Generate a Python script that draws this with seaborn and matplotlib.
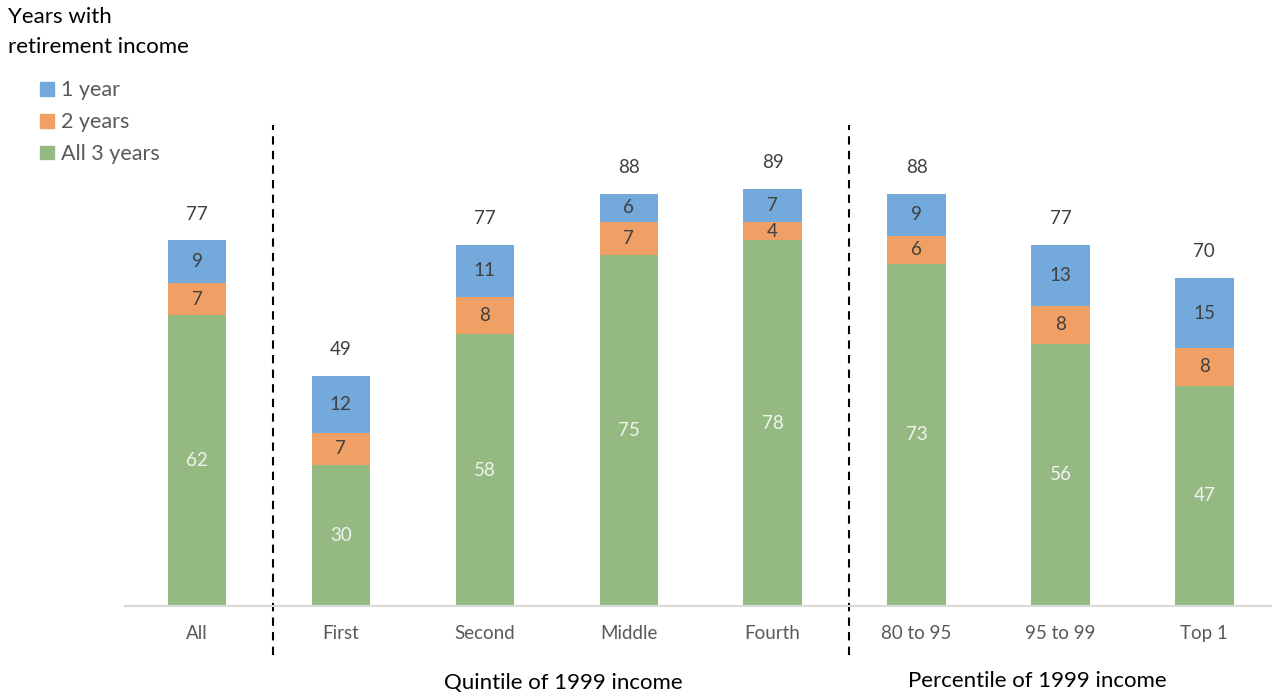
import numpy as np
import pandas as pd
import matplotlib
matplotlib.use("Agg")
import matplotlib.pyplot as plt
import matplotlib.transforms as mtransforms
import seaborn as sns

categories = ["All", "First", "Second", "Middle", "Fourth", "80 to 95", "95 to 99", "Top 1"]
all_3_years = [62, 30, 58, 75, 78, 73, 56, 47]
two_years = [7, 7, 8, 7, 4, 6, 8, 8]
one_year = [9, 12, 11, 6, 7, 9, 13, 15]
totals = [77, 49, 77, 88, 89, 88, 77, 70]
series_names = ["1 year", "2 years", "All 3 years"]
group_labels = ["Quintile of 1999 income", "Percentile of 1999 income"]
title = "Years with\nretirement income"

c_blue = "#74A9DB"
c_orange = "#F1A065"
c_green = "#94BA82"

sns.set_theme(style="white")
plt.rcParams["font.family"] = ["Lato", "DejaVu Sans"]

df = pd.DataFrame({
    "cat": categories,
    "g": all_3_years,
    "o": two_years,
    "b": one_year,
})
df["go"] = df["g"] + df["o"]
df["gob"] = df["go"] + df["b"]

fig = plt.figure(figsize=(12.72, 6.96), dpi=100)
ax = fig.add_axes([125 / 1272, 90 / 696, 1147 / 1272, 471 / 696])

W = 0.405
sns.barplot(data=df, x="cat", y="gob", order=categories, color=c_blue, width=W,
            saturation=1, ax=ax, linewidth=0)
sns.barplot(data=df, x="cat", y="go", order=categories, color=c_orange, width=W,
            saturation=1, ax=ax, linewidth=0)
sns.barplot(data=df, x="cat", y="g", order=categories, color=c_green, width=W,
            saturation=1, ax=ax, linewidth=0)

ax.set_ylim(0, 100.5)
ax.set_xlim(-0.5, 7.47)
ax.set_xlabel("")
ax.set_ylabel("")
ax.set_yticks([])
for s in ["left", "right", "top"]:
    ax.spines[s].set_visible(False)
ax.spines["bottom"].set_color("#D9D9D9")
ax.spines["bottom"].set_linewidth(1.5)
ax.tick_params(axis="x", length=0, pad=14, labelsize=13.5, labelcolor="#595959")

fs = 13.5
for i in range(len(categories)):
    g, o, b = all_3_years[i], two_years[i], one_year[i]
    ax.text(i, g / 2, str(g), ha="center", va="center", fontsize=fs, color="#F2F2F2")
    ax.text(i, g + o / 2, str(o), ha="center", va="center", fontsize=fs, color="#404040")
    ax.text(i, g + o + b / 2, str(b), ha="center", va="center", fontsize=fs, color="#404040")
    ax.annotate(str(totals[i]), (i, g + o + b), xytext=(0, 19), textcoords="offset points",
                ha="center", va="center", fontsize=fs, color="#404040", annotation_clip=False)

trans = mtransforms.blended_transform_factory(ax.transData, ax.transAxes)
for xs in [0.5, 4.5]:
    ax.plot([xs + 0.03, xs + 0.03], [-0.104, 1.021], transform=trans, color="black",
            linestyle=(0, (4, 3)), linewidth=1.5, clip_on=False)

fig.text(563 / 1272, 1 - 683 / 696, group_labels[0], ha="center", va="center",
         fontsize=16, color="black")
fig.text(1037 / 1272, 1 - 681 / 696, group_labels[1], ha="center", va="center",
         fontsize=16, color="black")

fig.text(8 / 1272, 1 - 7 / 696, title, ha="left", va="top", fontsize=16,
         color="black", linespacing=1.6)

handles = [plt.Rectangle((0, 0), 1, 1, color=c) for c in [c_blue, c_orange, c_green]]
leg = fig.legend(handles, series_names, loc="upper left",
                 bbox_to_anchor=(21 / 1272, 1 - 61 / 696), frameon=False,
                 fontsize=15.5, handlelength=0.62, handleheight=0.62,
                 handletextpad=0.35, labelspacing=0.55)
for t in leg.get_texts():
    t.set_color("#595959")

fig.savefig("out.png", dpi=100)
